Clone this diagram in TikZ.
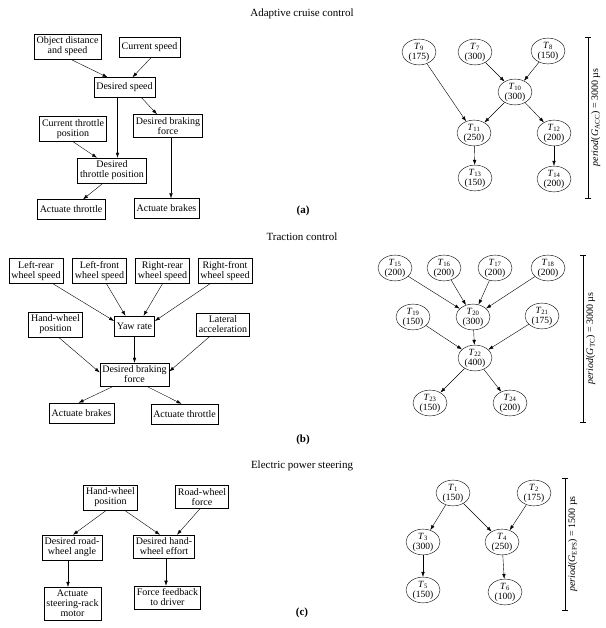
\documentclass[tikz,border=0pt]{standalone}
\usepackage{fontspec}
\setmainfont{Liberation Serif}
\usetikzlibrary{shapes.geometric, arrows.meta}
\newcommand{\taskT}[2]{\textit{T}\textsubscript{#1}\\(#2)}
\begin{document}
\begin{tikzpicture}[x=1pt, y=-1pt,
  blk/.style={draw, align=center, font=\fontsize{10}{10}\selectfont, inner xsep=2.5pt, inner ysep=3pt, minimum height=20pt},
  tsk/.style={draw, ellipse, align=center, font=\fontsize{9.5}{10}\selectfont, inner sep=0pt, minimum width=34pt, minimum height=25pt},
  arr/.style={-{Latex[length=5pt,width=3.5pt]}},
  bar/.style={{Bar[width=6pt]}-{Bar[width=6pt]}},
  plab/.style={rotate=90, anchor=north, inner sep=3pt, font=\fontsize{10}{12}\selectfont},
  ttl/.style={font=\fontsize{11}{13}\selectfont},
  sub/.style={font=\fontsize{11}{13}\selectfont\bfseries}]
\useasboundingbox (0,0) rectangle (605,628);
\node[ttl] (ttla) at (302,14) {Adaptive cruise control};
\node[ttl] (ttlb) at (302,237) {Traction control};
\node[ttl] (ttlc) at (302,466) {Electric power steering};
\node[sub] (suba) at (303,211) {(a)};
\node[sub] (subb) at (303,440) {(b)};
\node[sub] (subc) at (302,613) {(c)};
\node[blk] (os) at (67.5,46.5) {Object distance\\and speed};
\node[blk] (cs) at (149.5,47) {Current speed};
\node[blk] (ds) at (124.5,87.5) {Desired speed};
\node[blk] (ctp) at (73,129) {Current throttle\\position};
\node[blk] (dbf) at (168,126) {Desired braking\\force};
\node[blk] (dtp) at (112,170.5) {Desired\\throttle position};
\node[blk] (at) at (71,209.5) {Actuate throttle};
\node[blk] (ab) at (166.5,208.5) {Actuate brakes};
\draw[arr] ([xshift=3pt]os.south) -- ([xshift=-17pt]ds.north);
\draw[arr] ([xshift=2pt]cs.south) -- ([xshift=8pt]ds.north);
\draw[arr] ([xshift=-7pt]ds.south) -- ([xshift=-7pt]ds.south |- dtp.north);
\draw[arr] ([xshift=17pt]ds.south) -- ([xshift=-11pt]dbf.north);
\draw[arr] (ctp.south) -- ([xshift=-15pt]dtp.north);
\draw[arr] ([xshift=3pt]dbf.south) -- ([xshift=3pt]dbf.south |- ab.north);
\draw[arr] ([xshift=-9pt]dtp.south) -- ([xshift=12pt]at.north);
\node[tsk] (t9) at (419,52) {\taskT{9}{175}};
\node[tsk] (t7) at (475,52) {\taskT{7}{300}};
\node[tsk] (t8) at (548,51) {\taskT{8}{150}};
\node[tsk] (t10) at (515,92) {\taskT{10}{300}};
\node[tsk] (t11) at (474,133) {\taskT{11}{250}};
\node[tsk] (t12) at (554,133) {\taskT{12}{200}};
\node[tsk] (t13) at (475,178) {\taskT{13}{150}};
\node[tsk] (t14) at (554,179) {\taskT{14}{200}};
\draw[arr] (t7) -- (t10);
\draw[arr] (t8) -- (t10);
\draw[arr] (t9) -- (t11);
\draw[arr] (t10) -- (t11);
\draw[arr] (t10) -- (t12);
\draw[arr] (t11) -- (t13);
\draw[arr] (t12) -- (t14);
\coordinate (pa1) at (588,37);
\coordinate (pa2) at (588,198);
\draw[bar] (pa1) -- node[plab] {\textit{period}(\textit{G}\textsubscript{ACC})~=~3000~µs} (pa2);
\node[blk] (lr) at (36,271) {Left-rear\\wheel speed};
\node[blk] (lf) at (99.5,271) {Left-front\\wheel speed};
\node[blk] (rr) at (162.5,271) {Right-rear\\wheel speed};
\node[blk] (rf) at (225,271) {Right-front\\wheel speed};
\node[blk] (hw) at (55.5,324.5) {Hand-wheel\\position};
\node[blk] (yr) at (134.5,326) {Yaw rate};
\node[blk] (la) at (223,324.5) {Lateral\\acceleration};
\node[blk] (dbfb) at (134.5,374.5) {Desired braking\\force};
\node[blk] (abb) at (81.5,413) {Actuate brakes};
\node[blk] (atb) at (184.5,414) {Actuate throttle};
\draw[arr] ([xshift=17pt]lr.south) -- ([yshift=5pt]yr.west);
\draw[arr] ([xshift=7pt]lf.south) -- ([xshift=-9pt]yr.north);
\draw[arr] (rr.south) -- ([xshift=9pt]yr.north);
\draw[arr] ([xshift=-15pt]rf.south) -- ([yshift=5pt]yr.east);
\draw[arr] (yr.south) -- (dbfb.north);
\draw[arr] ([xshift=3pt]hw.south) -- ([yshift=2pt]dbfb.west);
\draw[arr] ([xshift=-13pt]la.south) -- ([yshift=3pt]dbfb.east);
\draw[arr] ([xshift=-21pt]dbfb.south) -- ([xshift=-3pt]abb.north);
\draw[arr] ([xshift=12pt]dbfb.south) -- ([xshift=-3pt]atb.north);
\node[tsk] (t15) at (395,268) {\taskT{15}{200}};
\node[tsk] (t16) at (444,268) {\taskT{16}{200}};
\node[tsk] (t17) at (495,268) {\taskT{17}{200}};
\node[tsk] (t18) at (548,268) {\taskT{18}{200}};
\node[tsk] (t19) at (413,317) {\taskT{19}{150}};
\node[tsk] (t20) at (473,317) {\taskT{20}{300}};
\node[tsk] (t21) at (542,316) {\taskT{21}{175}};
\node[tsk] (t22) at (475,358) {\taskT{22}{400}};
\node[tsk] (t23) at (430,403) {\taskT{23}{150}};
\node[tsk] (t24) at (510,403) {\taskT{24}{200}};
\foreach \s in {t15,t16,t17,t18}
  \draw[arr] (\s) -- (t20);
\foreach \s in {t19,t20,t21}
  \draw[arr] (\s) -- (t22);
\draw[arr] (t22) -- (t23);
\draw[arr] (t22) -- (t24);
\coordinate (pb1) at (583,255);
\coordinate (pb2) at (583,422);
\draw[bar] (pb1) -- node[plab] {\textit{period}(\textit{G}\textsubscript{TC})~=~3000~µs} (pb2);
\node[blk] (hwp) at (110.5,497.5) {Hand-wheel\\position};
\node[blk] (rwf) at (202,497) {Road-wheel\\force};
\node[blk] (drwa) at (72,547.5) {Desired road-\\wheel angle};
\node[blk] (dhwe) at (164,546.5) {Desired hand-\\wheel effort};
\node[blk] (asrm) at (72.5,603.5) {Actuate\\steering-rack\\motor};
\node[blk] (ffd) at (167.5,597.5) {Force feedback\\to driver};
\draw[arr] ([xshift=-4pt]hwp.south) -- ([xshift=1pt]drwa.north);
\draw[arr] ([xshift=14pt]hwp.south) -- ([xshift=-4pt]dhwe.north);
\draw[arr] ([xshift=-2pt]rwf.south) -- ([xshift=13pt]dhwe.north);
\draw[arr] ([xshift=-4pt]drwa.south) -- ([xshift=-4pt]drwa.south |- asrm.north);
\draw[arr] ([xshift=2pt]dhwe.south) -- ([xshift=2pt]dhwe.south |- ffd.north);
\node[tsk] (t1) at (453,493) {\taskT{1}{150}};
\node[tsk] (t2) at (534,493) {\taskT{2}{175}};
\node[tsk] (t3) at (423,542) {\taskT{3}{300}};
\node[tsk] (t4) at (502,542) {\taskT{4}{250}};
\node[tsk] (t5) at (423,590) {\taskT{5}{150}};
\node[tsk] (t6) at (505,592) {\taskT{6}{100}};
\draw[arr] (t1) -- (t3);
\draw[arr] (t1) -- (t4);
\draw[arr] (t2) -- (t4);
\draw[arr] (t3) -- (t5);
\draw[arr] (t4) -- (t6);
\coordinate (pc1) at (565,478);
\coordinate (pc2) at (565,610);
\draw[bar] (pc1) -- node[plab] {\textit{period}(\textit{G}\textsubscript{EPS})~=~1500~µs} (pc2);
\end{tikzpicture}
\end{document}
